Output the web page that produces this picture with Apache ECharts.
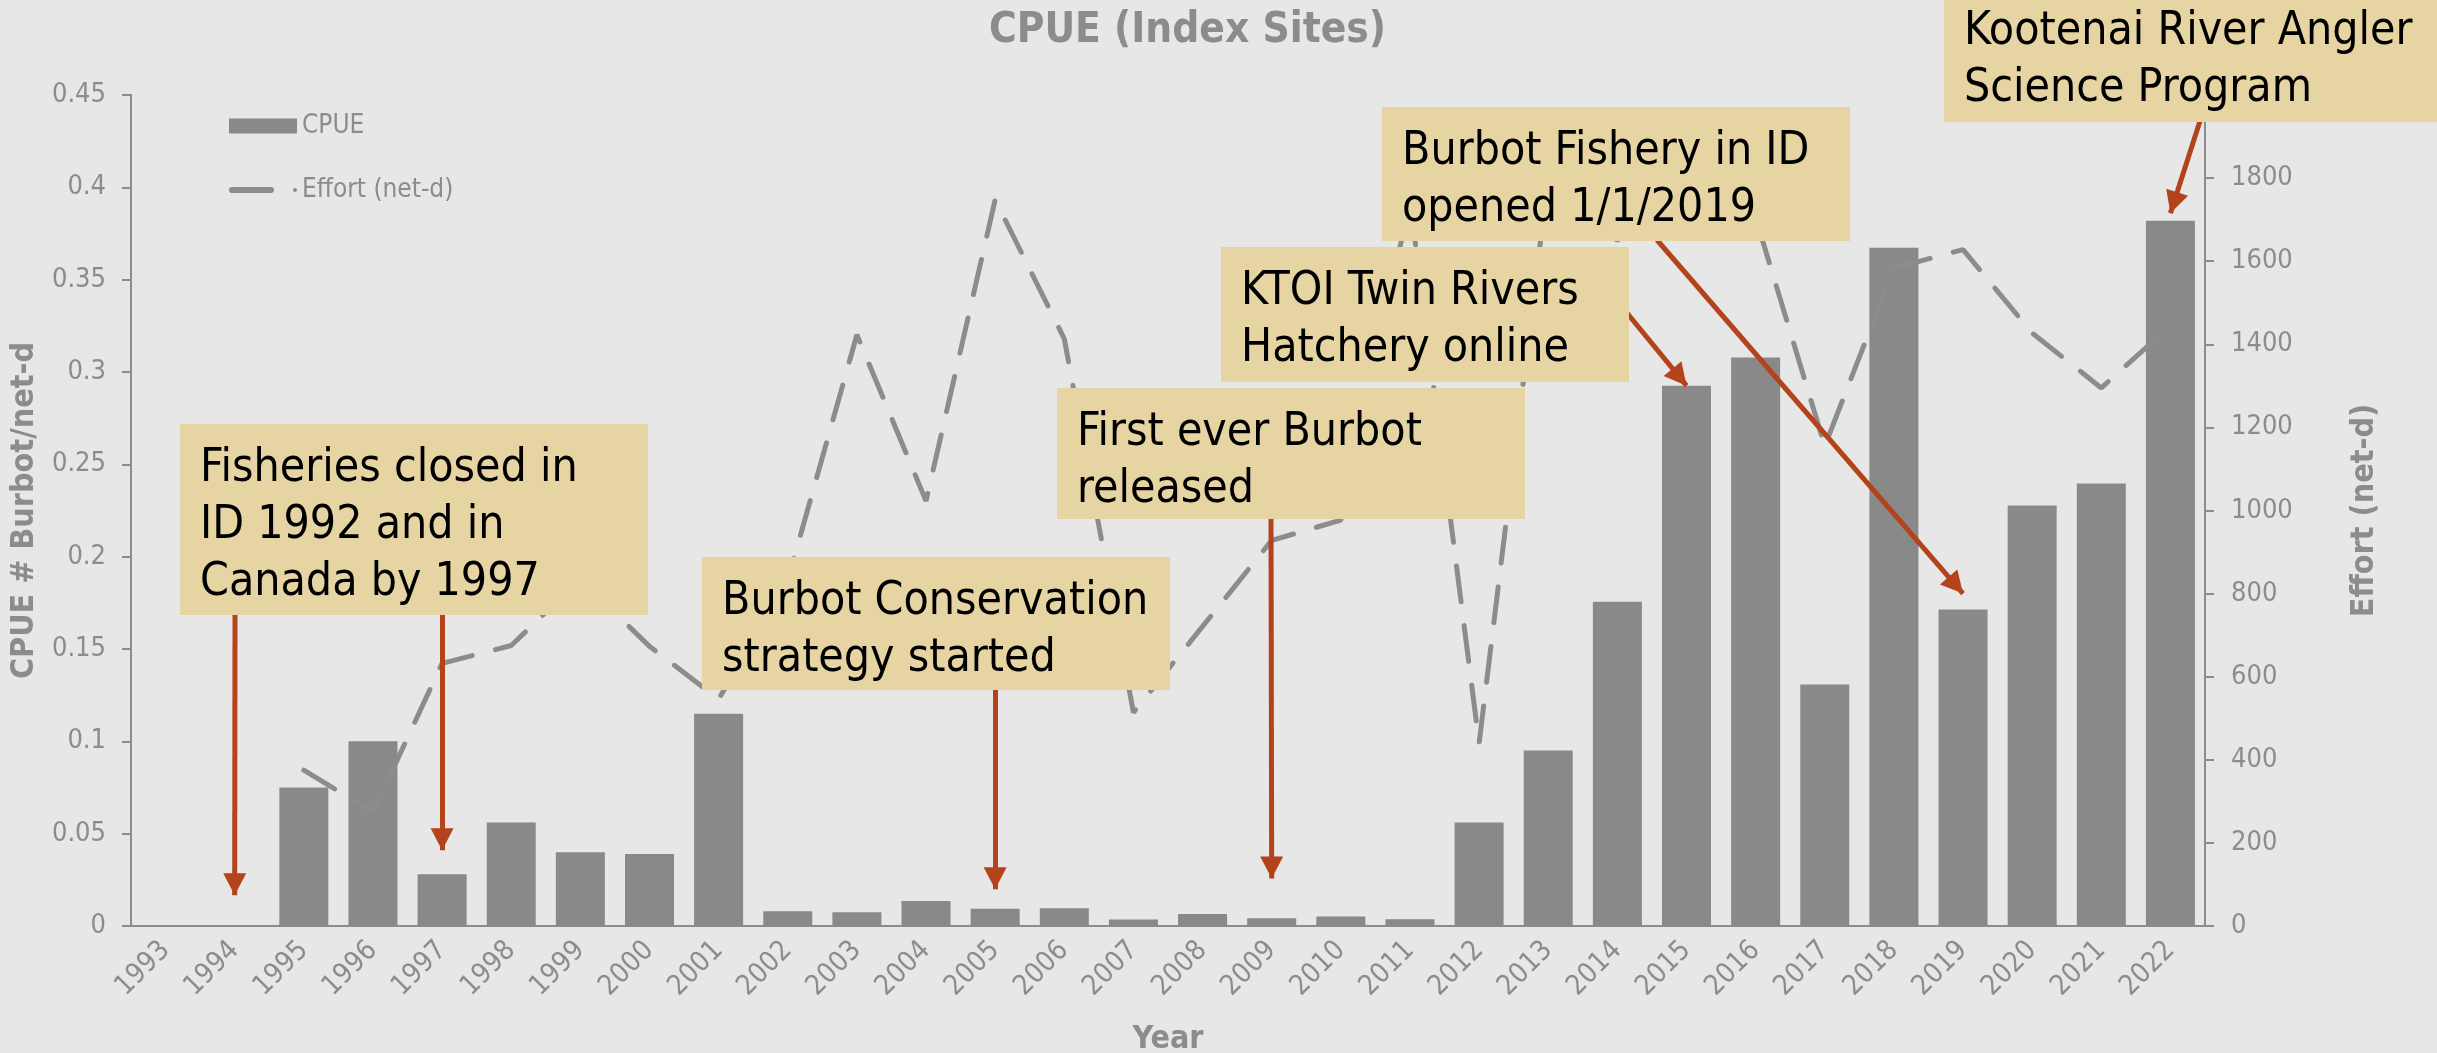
<!DOCTYPE html>
<html>
<head>
<meta charset="utf-8">
<title>CPUE (Index Sites)</title>
<script src="https://cdn.jsdelivr.net/npm/echarts@6/dist/echarts.min.js"></script>
<style>
  html, body { margin: 0; padding: 0; background: #e7e7e7; }
  #chart { width: 2437px; height: 1053px; }
</style>
</head>
<body>
<div id="chart"></div>
<script>
// --- data ---
const years = ['1993', '1994', '1995', '1996', '1997', '1998', '1999', '2000', '2001', '2002',
  '2003', '2004', '2005', '2006', '2007', '2008', '2009', '2010', '2011', '2012',
  '2013', '2014', '2015', '2016', '2017', '2018', '2019', '2020', '2021', '2022'];

const cpue = [null, null, 0.075, 0.1, 0.028, 0.056, 0.040, 0.039, 0.115, 0.008,
  0.0075, 0.0135, 0.0094, 0.0096, 0.0035, 0.0065, 0.0042, 0.0051, 0.0036, 0.056,
  0.095, 0.1756, 0.2926, 0.3078, 0.1308, 0.3673, 0.1714, 0.2277, 0.2396, 0.3819];

const effort = [null, null, 375, 274, 632, 675, 835, 673, 546, 832,
  1423, 1023, 1748, 1413, 514, 721, 928, 977, 1745, 440,
  1800, 1650, 1790, 1705, 1155, 1583, 1628, 1427, 1295, 1445];

const cpueTicks = [0, 0.05, 0.1, 0.15, 0.2, 0.25, 0.3, 0.35, 0.4, 0.45];
const effortTicks = [0, 200, 400, 600, 800, 1000, 1200, 1400, 1600, 1800, 2000];

// annotation texts, and where each arrow points (year, CPUE value)
const notes = [
  'Fisheries closed in\nID 1992 and in\nCanada by 1997',
  'Burbot Conservation\nstrategy started',
  'First ever Burbot\nreleased',
  'KTOI Twin Rivers\nHatchery online',
  'Burbot Fishery in ID\nopened 1/1/2019',
  'Kootenai River Angler\nScience Program'
];
const arrowYears = ['1994', '1997', '2005', '2009', '2015', '2019', '2022'];
const arrowValues = [0.0166, 0.041, 0.0199, 0.0257, 0.2926, 0.18, 0.386];

// --- layout of the annotation boxes (pixels) ---
const boxRects = [
  [180, 424, 468, 191],
  [702, 557, 468, 133],
  [1057, 388, 468, 131],
  [1221, 247, 408, 135],
  [1382, 107, 468, 134],
  [1944, -13, 520, 135]
];
const arrowStarts = [[235, 615], [442, 615], [995, 690], [1271, 519], [1627, 313], [1657, 240], [2200, 121]];

const gray = '#8c8c8c';
const barColor = '#898989';
const boxFill = '#e6d5a2';
const arrowColor = '#b4421b';
const font = "'DejaVu Sans Condensed', 'Liberation Sans', sans-serif";

const graphics = [];
notes.forEach((t, i) => {
  const [x, y, w, h] = boxRects[i];
  graphics.push({
    type: 'rect', z: 100, silent: true,
    shape: { x: x, y: y, width: w, height: h },
    style: { fill: boxFill }
  });
  graphics.push({
    type: 'text', z: 101, silent: true,
    x: x + 20, y: y + 17,
    style: {
      text: t, fill: '#000', fontSize: 46, fontFamily: font, lineHeight: 57,
      align: 'left', verticalAlign: 'top', textAlign: 'left', textVerticalAlign: 'top'
    }
  });
});

const chart = echarts.init(document.getElementById('chart'));

chart.setOption({
  backgroundColor: '#e7e7e7',
  animation: false,
  textStyle: { fontFamily: font },
  title: {
    text: 'CPUE (Index Sites)',
    left: 984, top: 5,
    textStyle: { color: gray, fontSize: 42, fontWeight: 'bold', fontFamily: font }
  },
  legend: {
    orient: 'vertical',
    left: 229, top: 111, padding: 0,
    itemWidth: 68, itemHeight: 15, itemGap: 34,
    symbolKeepAspect: true,
    textStyle: { color: gray, fontSize: 26, lineHeight: 30, fontFamily: font },
    data: [
      { name: 'CPUE', icon: 'rect' },
      { name: 'Effort (net-d)', icon: 'path://M3,0 L42,0 A3,3 0 0 1 42,6 L3,6 A3,3 0 0 1 3,0 Z M66,1 A2,2 0 1 1 66,5 A2,2 0 1 1 66,1 Z' }
    ]
  },
  grid: { left: 131, right: 232, top: 95, bottom: 127, outerBoundsMode: 'none' },
  xAxis: {
    type: 'category',
    data: years,
    name: 'Year', nameLocation: 'middle', nameGap: 98,
    nameTextStyle: { color: gray, fontSize: 32, fontWeight: 'bold' },
    axisLine: { lineStyle: { color: gray, width: 2 } },
    axisTick: { length: 9, lineStyle: { color: gray, width: 2 } },
    axisLabel: { rotate: 45, interval: 0, margin: 20, color: gray, fontSize: 28 }
  },
  yAxis: [{
    type: 'value',
    min: cpueTicks[0], max: cpueTicks[cpueTicks.length - 1], interval: cpueTicks[1] - cpueTicks[0],
    name: 'CPUE # Burbot/net-d', nameLocation: 'middle', nameGap: 84,
    nameTextStyle: { color: gray, fontSize: 32, fontWeight: 'bold' },
    splitLine: { show: false },
    axisLine: { show: true, lineStyle: { color: gray, width: 2 } },
    axisTick: { show: true, length: 9, lineStyle: { color: gray, width: 2 } },
    axisLabel: { margin: 25, color: gray, fontSize: 27 }
  }, {
    type: 'value', position: 'right',
    min: effortTicks[0], max: effortTicks[effortTicks.length - 1], interval: effortTicks[1] - effortTicks[0],
    name: 'Effort (net-d)', nameLocation: 'middle', nameGap: 144,
    nameTextStyle: { color: gray, fontSize: 32, fontWeight: 'bold' },
    splitLine: { show: false },
    axisLine: { show: true, lineStyle: { color: gray, width: 2 } },
    axisTick: { show: true, length: 9, lineStyle: { color: gray, width: 2 } },
    axisLabel: { margin: 26, color: gray, fontSize: 27, formatter: v => String(v) }
  }],
  series: [{
    name: 'CPUE',
    type: 'bar',
    data: cpue,
    barWidth: 49,
    itemStyle: { color: barColor },
    markLine: {
      silent: true,
      symbol: ['none', 'triangle'],
      symbolSize: [23, 22],
      symbolOffset: [[0, 0], [0, 11]],
      label: { show: false },
      emphasis: { disabled: true },
      lineStyle: { color: arrowColor, width: 5, type: 'solid', opacity: 1 },
      itemStyle: { color: arrowColor },
      data: arrowYears.map((y, i) => [
        { x: arrowStarts[i][0], y: arrowStarts[i][1] },
        { coord: [y, arrowValues[i]] }
      ])
    }
  }, {
    name: 'Effort (net-d)',
    type: 'line',
    yAxisIndex: 1,
    data: effort,
    showSymbol: false,
    symbol: 'none',
    lineStyle: { color: gray, width: 5, type: [36, 24], cap: 'round' },
    itemStyle: { color: gray }
  }],
  graphic: graphics
});
</script>
</body>
</html>
